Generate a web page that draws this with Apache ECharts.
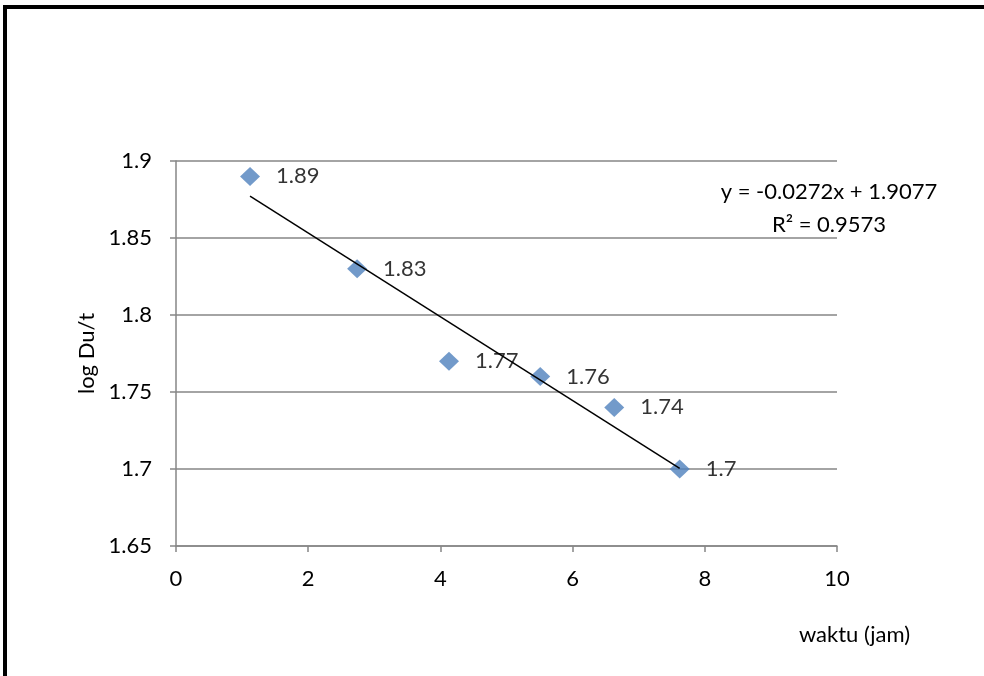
<!DOCTYPE html>
<html>
<head>
<meta charset="utf-8">
<script src="https://cdn.jsdelivr.net/npm/echarts@6/dist/echarts.min.js"></script>
<style>html,body{margin:0;padding:0;background:#fff;overflow:hidden;}#c{width:984px;height:676px;}</style>
</head>
<body>
<div id="c"></div>
<script>
var waktu = [1.12, 2.74, 4.13, 5.51, 6.63, 7.62];
var logDu = [1.89, 1.83, 1.77, 1.76, 1.74, 1.70];
var trendX = [1.12, 7.62];
var trendY = [1.8772, 1.7004];
var xTicks = [0, 2, 4, 6, 8, 10];
var yTicks = [1.65, 1.7, 1.75, 1.8, 1.85, 1.9];
var eqLine1 = 'y = -0.0272x + 1.9077';
var eqLine2 = 'R² = 0.9573';
var xTitle = 'waktu (jam)';
var yTitle = 'log Du/t';
var FONT = 'Lato';
var FS = 22;

var chart = echarts.init(document.getElementById('c'), null, {renderer: 'canvas'});
var axisGray = '#868686';
chart.setOption({
  animation: false,
  backgroundColor: '#fff',
  grid: {left: 176, right: 147, top: 161, bottom: 130, containLabel: false},
  xAxis: {
    type: 'value', min: 0, max: 10, interval: 2,
    axisLine: {lineStyle: {color: axisGray, width: 1.5}},
    axisTick: {show: true, length: 6, inside: false, lineStyle: {color: axisGray, width: 1.5}},
    axisLabel: {fontFamily: FONT, fontSize: FS, color: '#000', margin: 22,
      formatter: function (v) { return xTicks.indexOf(v) >= 0 ? String(v) : ''; }},
    splitLine: {show: false}
  },
  yAxis: {
    type: 'value', min: 1.65, max: 1.9, interval: 0.05,
    name: yTitle, nameLocation: 'middle', nameGap: 78, nameRotate: 90,
    nameTextStyle: {fontFamily: FONT, fontSize: FS, color: '#000'},
    axisLine: {show: true, lineStyle: {color: axisGray, width: 1.5}},
    axisTick: {show: true, length: 6, lineStyle: {color: axisGray, width: 1.5}},
    axisLabel: {fontFamily: FONT, fontSize: FS, color: '#000', margin: 24,
      formatter: function (v) {
        for (var i = 0; i < yTicks.length; i++) { if (Math.abs(yTicks[i] - v) < 1e-6) return String(yTicks[i]); }
        return '';
      }},
    splitLine: {show: true, lineStyle: {color: axisGray, width: 1.5}}
  },
  series: [
    {
      type: 'line',
      data: trendX.map(function (x, i) { return [x, trendY[i]]; }),
      symbol: 'none',
      lineStyle: {color: '#000', width: 1.5},
      z: 3,
      silent: true
    },
    {
      type: 'scatter',
      data: waktu.map(function (x, i) { return [x, logDu[i]]; }),
      symbol: 'diamond',
      symbolSize: [20, 19],
      itemStyle: {color: '#4F81BD'},
      z: 2,
      label: {
        show: true, position: 'right', distance: 16,
        fontFamily: FONT, fontSize: FS, color: '#000',
        formatter: function (p) { return String(p.value[1]); }
      }
    }
  ],
  graphic: [
    {type: 'polyline', shape: {points: [[5, 676], [5, 7], [984, 7]]}, style: {fill: 'none', stroke: '#000', lineWidth: 4, lineJoin: 'miter'}, silent: true},
    {type: 'text', x: 829, y: 192, style: {text: eqLine1, fontFamily: FONT, fontSize: FS, fill: '#000', textAlign: 'center', textVerticalAlign: 'middle'}},
    {type: 'text', x: 829, y: 225, style: {text: eqLine2, fontFamily: FONT, fontSize: FS, fill: '#000', textAlign: 'center', textVerticalAlign: 'middle'}},
    {type: 'text', x: 910, y: 635, style: {text: xTitle, fontFamily: FONT, fontSize: FS, fill: '#000', textAlign: 'right', textVerticalAlign: 'middle'}}
  ]
});
</script>
</body>
</html>
